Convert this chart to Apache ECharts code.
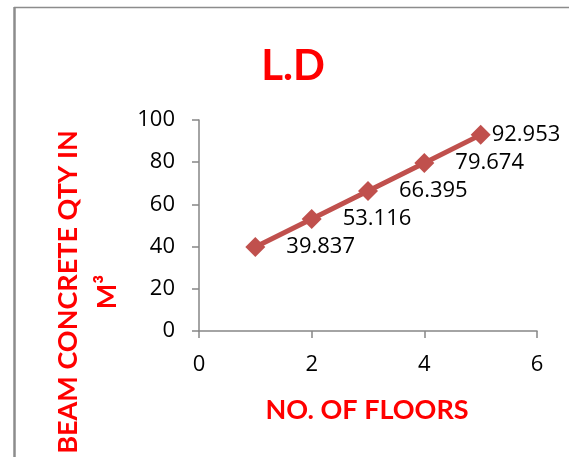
<!DOCTYPE html>
<html>
<head>
<meta charset="utf-8">
<style>
  html, body { margin: 0; padding: 0; background: #fff; }
  #chart { width: 569px; height: 457px; }
</style>
<script src="https://cdn.jsdelivr.net/npm/echarts@6/dist/echarts.min.js"></script>
</head>
<body>
<div id="chart"></div>
<script>
// Beam concrete quantity against number of floors
var floors = [1, 2, 3, 4, 5];
var concreteQty = [39.837, 53.116, 66.395, 79.674, 92.953];
var xTicks = { min: 0, max: 6, interval: 2 };
var yTicks = { min: 0, max: 100, interval: 20 };

var titleText = 'L.D';
var xTitle = 'NO. OF FLOORS';
var yTitle = 'BEAM CONCRETE QTY IN\nM\u00B3';

var FONT = 'Lato, "Open Sans", sans-serif';
var NUM_FONT = '"Open Sans", Lato, sans-serif';
var RED = '#FF0000';
var SERIES = '#C0504D';
var AXIS = '#868686';

var seriesData = floors.map(function (f, i) {
  var last = i === floors.length - 1;
  return {
    value: [f, concreteQty[i]],
    label: { distance: last ? 1 : 21 }
  };
});

var chart = echarts.init(document.getElementById('chart'), null, { renderer: 'canvas' });
chart.setOption({
  animation: false,
  backgroundColor: '#ffffff',
  grid: { left: 199, right: 32, top: 120, bottom: 126, containLabel: false },
  xAxis: {
    type: 'value',
    min: xTicks.min, max: xTicks.max, interval: xTicks.interval,
    axisLine: { show: true, lineStyle: { color: AXIS, width: 1.5 } },
    axisTick: { show: true, inside: false, length: 7, lineStyle: { color: AXIS, width: 1.5 } },
    axisLabel: { color: '#000', fontFamily: NUM_FONT, fontSize: 22, margin: 23 },
    splitLine: { show: false }
  },
  yAxis: {
    type: 'value',
    min: yTicks.min, max: yTicks.max, interval: yTicks.interval,
    axisLine: { show: true, lineStyle: { color: AXIS, width: 1.5 } },
    axisTick: { show: true, inside: false, length: 7, lineStyle: { color: AXIS, width: 1.5 } },
    axisLabel: { color: '#000', fontFamily: NUM_FONT, fontSize: 22, margin: 24 },
    splitLine: { show: false }
  },
  series: [{
    type: 'line',
    data: seriesData,
    symbol: 'diamond',
    symbolSize: 20,
    lineStyle: { color: SERIES, width: 5 },
    itemStyle: { color: SERIES },
    label: {
      show: true,
      position: 'right',
      color: '#000',
      fontFamily: NUM_FONT,
      fontSize: 22,
      formatter: function (p) { return String(p.value[1]); }
    }
  }],
  graphic: [
    // outer frame edges
    { type: 'line', shape: { x1: 14.5, y1: 7, x2: 14.5, y2: 457 }, style: { stroke: '#8c8c8c', lineWidth: 2.5 } },
    { type: 'line', shape: { x1: 14, y1: 7.5, x2: 569, y2: 7.5 }, style: { stroke: '#8c8c8c', lineWidth: 1.5 } },
    {
      type: 'text', x: 293, y: 66,
      style: { text: titleText, fill: RED, font: 'bold 42px ' + FONT, align: 'center', verticalAlign: 'middle' }
    },
    {
      type: 'text', x: 367, y: 410,
      style: { text: xTitle, fill: RED, font: 'bold 27px ' + FONT, align: 'center', verticalAlign: 'middle' }
    },
    {
      type: 'text', x: 88, y: 292, rotation: Math.PI / 2,
      style: { text: yTitle, fill: RED, font: 'bold 27px ' + FONT, lineHeight: 39, align: 'center', verticalAlign: 'middle' }
    }
  ]
});
</script>
</body>
</html>
